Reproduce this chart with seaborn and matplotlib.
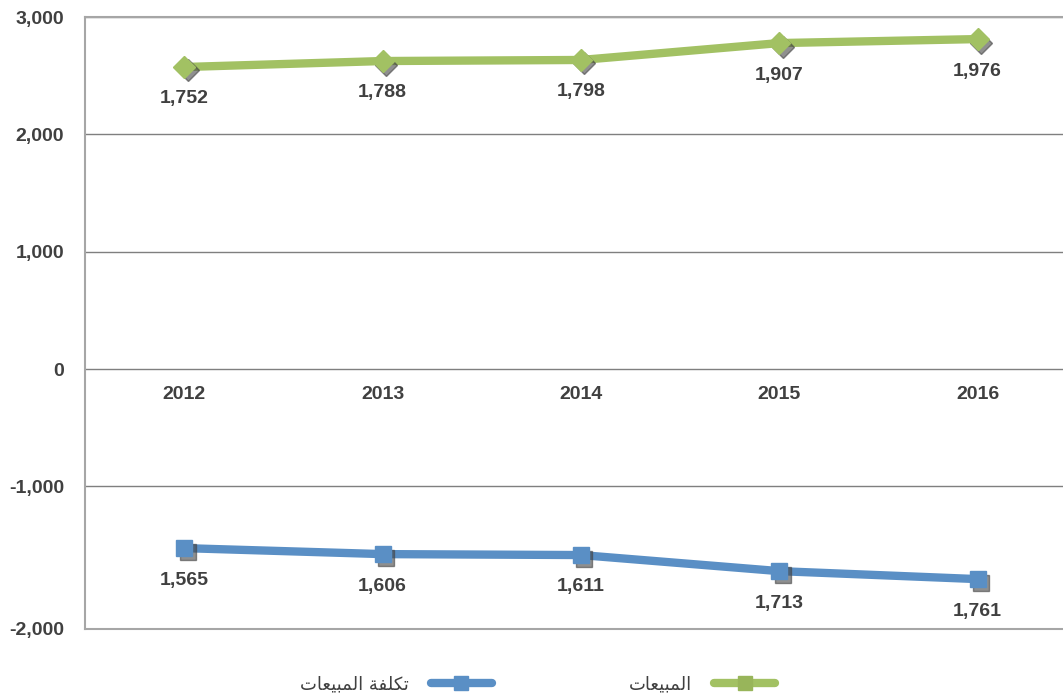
import numpy as np
import pandas as pd
import matplotlib
matplotlib.use('Agg')
import matplotlib.pyplot as plt
import matplotlib.transforms as mtransforms
from matplotlib.lines import Line2D
import seaborn as sns

years = ['2012', '2013', '2014', '2015', '2016']
# plotted positions
sales_pos = [2574, 2625, 2634, 2778, 2812]
cost_pos = [-1526, -1577, -1585, -1722, -1790]
# printed data labels
sales_labels = ['1,752', '1,788', '1,798', '1,907', '1,976']
cost_labels = ['1,565', '1,606', '1,611', '1,713', '1,761']
ytick_vals = [-2215, -1000, 0, 1000, 2000, 3000]
ytick_labels = ['-2,000', '-1,000', '0', '1,000', '2,000', '3,000']

# Arabic, pre-shaped (presentation forms, visual order)
sales_name = '\uFE95\uFE8E\uFECC\uFEF4\uFE92\uFEE4\uFEDF\uFE8D'          # المبيعات
cost_name = sales_name + ' ' + '\uFE94\uFED4\uFEE0\uFEDC\uFE97'           # تكلفة المبيعات

green = '#A2C163'
blue = '#5A8FC5'
txt = '#404040'

sns.set_theme(style='white')
plt.rcParams['font.family'] = ['Liberation Sans', 'DejaVu Sans']

df = pd.DataFrame({'x': np.arange(len(years)), 'sales': sales_pos, 'cost': cost_pos})

fig = plt.figure(figsize=(10.63, 6.95), dpi=100)
ax = fig.add_axes([0.080, 0.095, 0.933, 0.8805])

shadow = ax.transData + mtransforms.ScaledTranslation(2.5 / 72, -2.5 / 72, fig.dpi_scale_trans)

for col, c, m, ms in [('sales', green, 'D', 11), ('cost', blue, 's', 12)]:
    sns.lineplot(data=df, x='x', y=col, ax=ax, color=c, linewidth=6, zorder=3)
    ax.plot(df['x'], df[col], linestyle='none', marker=m, markersize=ms,
            color='#444444', alpha=0.6, transform=shadow, zorder=3.5)
    ax.plot(df['x'], df[col], linestyle='none', marker=m, markersize=ms,
            color=c, zorder=4)

fs = 14
for i in range(len(years)):
    ax.annotate(sales_labels[i], (i, sales_pos[i]), xytext=(0, -23), textcoords='offset points',
                ha='center', va='center', fontsize=fs, fontweight='bold', color=txt)
    ax.annotate(cost_labels[i], (i, cost_pos[i]), xytext=(0, -23), textcoords='offset points',
                ha='center', va='center', fontsize=fs, fontweight='bold', color=txt)
    ax.annotate(years[i], (i, 0), xytext=(0, -18), textcoords='offset points',
                ha='center', va='center', fontsize=fs, fontweight='bold', color=txt)

ax.set_xlim(-0.5, 4.5)
ax.set_ylim(-2215, 3000)
ax.set_xticks([])
ax.set_yticks(ytick_vals)
ax.set_yticklabels(ytick_labels)
ax.tick_params(axis='y', length=0, pad=15, labelsize=fs, labelcolor=txt)
for lab in ax.get_yticklabels():
    lab.set_fontweight('bold')
ax.set_xlabel('')
ax.set_ylabel('')

ax.grid(axis='y', color='#7f7f7f', linewidth=1)
for s in ['left', 'bottom', 'top']:
    ax.spines[s].set_color('#a6a6a6')
    ax.spines[s].set_linewidth(1.5)
ax.spines['right'].set_visible(False)

handles = [
    Line2D([], [], color=blue, linewidth=6, solid_capstyle='round', marker='s',
           markersize=10, markerfacecolor=blue, markeredgecolor=blue),
    Line2D([], [], color=green, linewidth=6, solid_capstyle='round', marker='s',
           markersize=10, markerfacecolor='#98B55A', markeredgecolor='#98B55A'),
]
fig.legend(handles, [cost_name, sales_name], loc='center', bbox_to_anchor=(0.506, 0.015),
           ncol=2, frameon=False, markerfirst=False, handlelength=3.4, handletextpad=1.2,
           columnspacing=7.6, prop={'family': ['DejaVu Sans'], 'size': 13}, labelcolor=txt)

fig.savefig('out.png', dpi=100)
